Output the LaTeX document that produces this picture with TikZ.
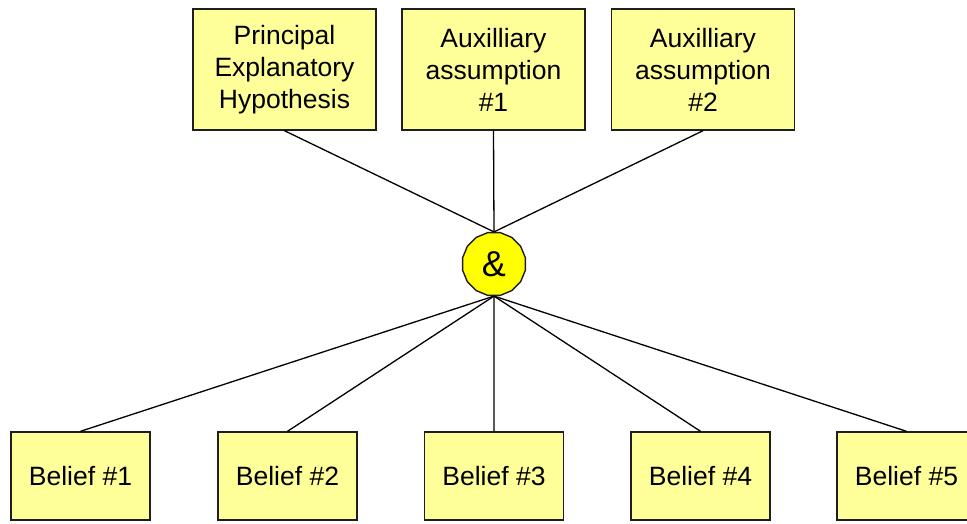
\documentclass[tikz,border=0pt]{standalone}
\usepackage{fontspec}
\setmainfont{Liberation Sans}
\usetikzlibrary{shapes.geometric}
\definecolor{boxfill}{RGB}{255,255,153}
\definecolor{andfill}{RGB}{255,255,0}
\definecolor{edge}{RGB}{30,30,30}
\begin{document}
\begin{tikzpicture}[x=1pt,y=-1pt,
  premise/.style={draw=edge,line width=1.4pt,fill=boxfill,inner sep=0pt,
    minimum width=183pt,minimum height=121pt,align=center,
    font=\fontsize{26.5}{32}\selectfont},
  belief/.style={draw=edge,line width=1.4pt,fill=boxfill,inner sep=0pt,
    minimum width=139pt,minimum height=88pt,align=center,
    font=\fontsize{26.5}{32}\selectfont},
  conj/.style={regular polygon,regular polygon sides=16,draw=edge,line width=1.4pt,
    fill=andfill,inner sep=0pt,minimum size=64pt,font=\fontsize{36}{40}\selectfont},
  link/.style={draw=black,line width=1.3pt}]
\useasboundingbox (0,0) rectangle (967,523);
% premises
\node[premise] (p) at (284.5,69.5) {Principal\\Explanatory\\Hypothesis};
\node[premise] (a1) at (493.5,69.5) {Auxilliary\\assumption\\\#1};
\node[premise] (a2) at (703,69.5) {Auxilliary\\assumption\\\#2};
% conjunction
\node[conj] (and) at (494,264) {\&};
% consequences
\node[belief] (b1) at (80.5,476) {Belief \#1};
\node[belief] (b2) at (287.5,476) {Belief \#2};
\node[belief] (b3) at (494,476) {Belief \#3};
\node[belief] (b4) at (700.5,476) {Belief \#4};
\node[belief] (b5) at (906.5,476) {Belief \#5};
% connectors
\foreach \n in {p,a1,a2} \draw[link] (\n.south) -- (and.north);
\foreach \n in {b1,b2,b3,b4,b5} \draw[link] (and.south) -- (\n.north);
\end{tikzpicture}
\end{document}
